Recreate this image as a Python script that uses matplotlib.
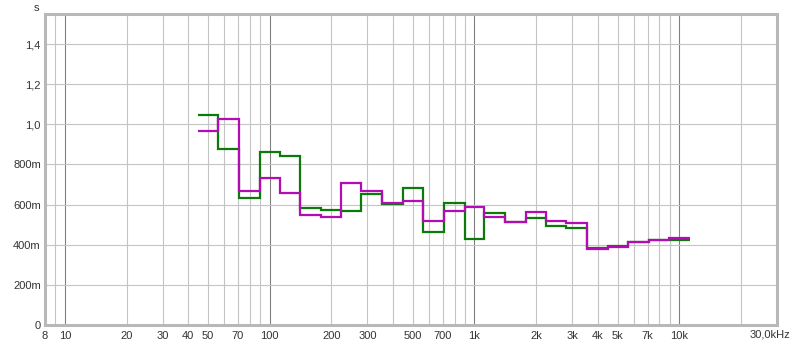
import numpy as np
import matplotlib.pyplot as plt
from matplotlib.ticker import FixedLocator, NullLocator

# 1/3 octave band centres (Hz) and reverberation times (s)
bands = [50, 63, 80, 100, 125, 160, 200, 250, 315, 400, 500, 630, 800,
         1000, 1250, 1600, 2000, 2500, 3150, 4000, 5000, 6300, 8000, 10000]
rt_green = [1.045, 0.875, 0.633, 0.860, 0.844, 0.581, 0.573, 0.570, 0.651,
            0.603, 0.681, 0.465, 0.609, 0.430, 0.560, 0.513, 0.532, 0.495,
            0.482, 0.386, 0.393, 0.415, 0.424, 0.425]
rt_magenta = [0.967, 1.028, 0.669, 0.734, 0.656, 0.548, 0.537, 0.709, 0.666,
              0.606, 0.620, 0.520, 0.570, 0.587, 0.537, 0.513, 0.565, 0.518,
              0.510, 0.379, 0.387, 0.415, 0.424, 0.432]

xtick_vals = [8, 10, 20, 30, 40, 50, 70, 100, 200, 300, 500, 700,
              1000, 2000, 3000, 4000, 5000, 7000, 10000]
xtick_labels = ['8', '10', '20', '30', '40', '50', '70', '100', '200', '300',
                '500', '700', '1k', '2k', '3k', '4k', '5k', '7k', '10k']
ytick_vals = [0, 0.2, 0.4, 0.6, 0.8, 1.0, 1.2, 1.4]
ytick_labels = ['0', '200m', '400m', '600m', '800m', '1,0', '1,2', '1,4']

plt.rcParams['font.family'] = ['Liberation Sans', 'DejaVu Sans']

fig = plt.figure(figsize=(8, 3.46), dpi=100)
ax = fig.add_axes([45/800, 21/346, 732/800, 311/346])

# band edges from the geometric spacing of the centres
c = np.array(bands, dtype=float)
edges = np.concatenate([[c[0] / 2**(1/6)], np.sqrt(c[:-1] * c[1:]), [c[-1] * 2**(1/6)]])

ax.set_xscale('log')
ax.set_xlim(8, 30000)
ax.set_ylim(0, 1.55)

# grid: light lines inside decades, darker decade lines
minor = [f for d in [1, 10, 100, 1000, 10000] for f in np.arange(1, 10) * d
         if 8 <= f <= 20000 and f not in (10, 100, 1000, 10000)]
for f in minor:
    ax.axvline(f, color='#c4c4c4', lw=0.8, zorder=1)
for f in [10, 100, 1000, 10000]:
    ax.axvline(f, color='#808080', lw=0.8, zorder=1)
for y in ytick_vals[1:]:
    ax.axhline(y, color='#c4c4c4', lw=0.8, zorder=1)

ax.stairs(rt_green, edges, color='#0b7a0b', lw=1.6, baseline=None, zorder=3)
ax.stairs(rt_magenta, edges, color='#b40cb4', lw=1.6, baseline=None, zorder=4)

ax.xaxis.set_major_locator(FixedLocator(xtick_vals))
ax.xaxis.set_minor_locator(NullLocator())
ax.set_xticklabels(xtick_labels)
ax.set_yticks(ytick_vals)
ax.set_yticklabels(ytick_labels)
ax.tick_params(length=0, labelsize=8, colors='#333333', pad=3)
ax.tick_params(axis='x', pad=4)

ax.text(0.991, -0.03, '30,0kHz', ha='center', va='center', fontsize=8,
        color='#333333', transform=ax.transAxes, clip_on=False)
ax.text(-0.012, 1.02, 's', ha='center', va='center', fontsize=8,
        color='#333333', transform=ax.transAxes)

for s in ax.spines.values():
    s.set_color('#b8b8b8')
    s.set_linewidth(2.2)

fig.savefig('out.png', dpi=100)
